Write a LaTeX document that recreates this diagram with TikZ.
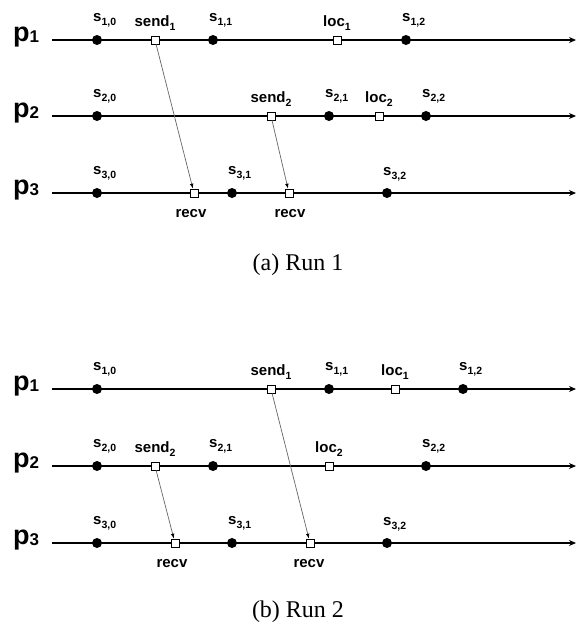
\documentclass[tikz,border=0pt]{standalone}
\usepackage{fontspec}
\setsansfont{Liberation Sans}
\newfontfamily\capfont{Liberation Serif}
\usetikzlibrary{arrows.meta}
\newcommand\mysub[1]{\raisebox{-0.28em}{\fontsize{10.5}{10.5}\selectfont #1}}
\newcommand\mypsub[1]{\raisebox{-0.05em}{\fontsize{17}{17}\selectfont #1}}
\tikzset{
  proc/.style={line width=1.1pt, -{Stealth[length=7pt,width=6pt]}},
  st/.style={circle, fill=black, inner sep=0pt, minimum size=10pt},
  ev/.style={rectangle, draw=black, fill=white, line width=0.6pt, inner sep=0pt, minimum size=8pt},
  msg/.style={draw=black!60, line width=0.7pt, -{Latex[length=5pt,width=3.5pt,color=black]}},
  lab/.style={font=\sffamily\bfseries\fontsize{15}{15}\selectfont, inner sep=0pt},
  plab/.style={font=\sffamily\bfseries\fontsize{27}{27}\selectfont, inner sep=0pt, anchor=base west},
  captext/.style={font=\capfont\fontsize{24}{24}\selectfont, inner sep=0pt, anchor=base},
}
\begin{document}
\begin{tikzpicture}[x=1pt,y=-1pt]
\useasboundingbox (0,0) rectangle (576,625);
% ---------- Run 1 ----------
\foreach \r/\y in {1/40,2/116,3/193}{
  \coordinate (a\r s) at (52,\y);
  \coordinate (a\r e) at (576,\y);
  \draw[proc] (a\r s) -- (a\r e);
}
\node[plab] (ap1) at (13,41) {p\mypsub{1}};
\node[plab] (ap2) at (13,117) {p\mypsub{2}};
\node[plab] (ap3) at (13,194) {p\mypsub{3}};
% p1
\node[st] (as10) at (97,40) {};
\node[ev] (asend1) at (155,40) {};
\node[st] (as11) at (213,40) {};
\node[ev] (aloc1) at (337,40) {};
\node[st] (as12) at (406,40) {};
% p2
\node[st] (as20) at (97,116) {};
\node[ev] (asend2) at (271,116) {};
\node[st] (as21) at (329,116) {};
\node[ev] (aloc2) at (379,116) {};
\node[st] (as22) at (426,116) {};
% p3
\node[st] (as30) at (97,193) {};
\node[ev] (arecv1) at (194,193) {};
\node[st] (as31) at (232,193) {};
\node[ev] (arecv2) at (289,193) {};
\node[st] (as32) at (387,193) {};
% labels
\node[lab, anchor=base west] (las10) at (93,21) {s\mysub{1,0}};
\node[lab, anchor=base] (lasend1) at (155,26) {send\mysub{1}};
\node[lab, anchor=base west] (las11) at (209,21) {s\mysub{1,1}};
\node[lab, anchor=base] (laloc1) at (337,26) {loc\mysub{1}};
\node[lab, anchor=base west] (las12) at (402,21) {s\mysub{1,2}};
\node[lab, anchor=base west] (las20) at (93,97) {s\mysub{2,0}};
\node[lab, anchor=base] (lasend2) at (271,102) {send\mysub{2}};
\node[lab, anchor=base west] (las21) at (325,97) {s\mysub{2,1}};
\node[lab, anchor=base] (laloc2) at (379,102) {loc\mysub{2}};
\node[lab, anchor=base west] (las22) at (422,97) {s\mysub{2,2}};
\node[lab, anchor=base west] (las30) at (93,174) {s\mysub{3,0}};
\node[lab, anchor=base] (larecv1) at (191,217) {recv};
\node[lab, anchor=base west] (las31) at (228,174) {s\mysub{3,1}};
\node[lab, anchor=base] (larecv2) at (290,217) {recv};
\node[lab, anchor=base west] (las32) at (383,175) {s\mysub{3,2}};
% messages
\draw[msg] (asend1) -- (arecv1);
\draw[msg] (asend2) -- (arecv2);
\node[captext] (capa) at (298,270) {(a) Run 1};
% ---------- Run 2 ----------
\foreach \r/\y in {1/389,2/466,3/543}{
  \coordinate (b\r s) at (52,\y);
  \coordinate (b\r e) at (576,\y);
  \draw[proc] (b\r s) -- (b\r e);
}
\node[plab] (bp1) at (13,390) {p\mypsub{1}};
\node[plab] (bp2) at (13,467) {p\mypsub{2}};
\node[plab] (bp3) at (13,544) {p\mypsub{3}};
% p1
\node[st] (bs10) at (97,389) {};
\node[ev] (bsend1) at (271,389) {};
\node[st] (bs11) at (329,389) {};
\node[ev] (bloc1) at (395,389) {};
\node[st] (bs12) at (463,389) {};
% p2
\node[st] (bs20) at (97,466) {};
\node[ev] (bsend2) at (155,466) {};
\node[st] (bs21) at (213,466) {};
\node[ev] (bloc2) at (329,466) {};
\node[st] (bs22) at (426,466) {};
% p3
\node[st] (bs30) at (97,543) {};
\node[ev] (brecv1) at (175,543) {};
\node[st] (bs31) at (232,543) {};
\node[ev] (brecv2) at (310,543) {};
\node[st] (bs32) at (387,543) {};
% labels
\node[lab, anchor=base west] (lbs10) at (93,370) {s\mysub{1,0}};
\node[lab, anchor=base] (lbsend1) at (271,375) {send\mysub{1}};
\node[lab, anchor=base west] (lbs11) at (325,370) {s\mysub{1,1}};
\node[lab, anchor=base] (lbloc1) at (395,375) {loc\mysub{1}};
\node[lab, anchor=base west] (lbs12) at (459,370) {s\mysub{1,2}};
\node[lab, anchor=base west] (lbs20) at (93,447) {s\mysub{2,0}};
\node[lab, anchor=base] (lbsend2) at (155,452) {send\mysub{2}};
\node[lab, anchor=base west] (lbs21) at (209,447) {s\mysub{2,1}};
\node[lab, anchor=base] (lbloc2) at (329,452) {loc\mysub{2}};
\node[lab, anchor=base west] (lbs22) at (422,447) {s\mysub{2,2}};
\node[lab, anchor=base west] (lbs30) at (93,524) {s\mysub{3,0}};
\node[lab, anchor=base] (lbrecv1) at (172,567) {recv};
\node[lab, anchor=base west] (lbs31) at (228,524) {s\mysub{3,1}};
\node[lab, anchor=base] (lbrecv2) at (309,567) {recv};
\node[lab, anchor=base west] (lbs32) at (383,525) {s\mysub{3,2}};
% messages
\draw[msg] (bsend1) -- (brecv2);
\draw[msg] (bsend2) -- (brecv1);
\node[captext] (capb) at (298,617) {(b) Run 2};
\end{tikzpicture}
\end{document}
